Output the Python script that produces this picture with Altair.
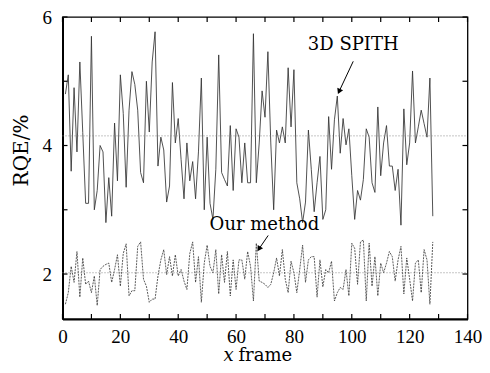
import altair as alt
import pandas as pd

frames = list(range(1, 129))
spith = [4.8, 5.1, 3.6, 4.9, 3.9, 5.3, 4.2, 3.1, 3.1, 5.7,
         3.0, 3.3, 4.0, 3.9, 2.8, 3.5, 2.9, 4.35, 3.45, 5.1,
         4.5, 3.35, 4.55, 5.15, 4.95, 4.55, 3.58, 3.42, 5.0, 4.21,
         5.3, 5.77, 3.68, 4.13, 3.93, 3.12, 3.37, 4.98, 4.04, 4.42,
         3.78, 3.17, 4.04, 3.45, 3.75, 3.17, 3.9, 5.05, 3.0, 4.13,
         3.1, 2.85, 3.63, 5.41, 3.58, 3.47, 3.37, 4.31, 3.3, 4.26,
         4.13, 3.42, 4.04, 3.42, 3.42, 5.74, 3.42, 4.04, 4.85, 4.44,
         5.46, 4.04, 3.0, 4.24, 4.04, 4.29, 4.04, 5.21, 4.29, 5.18,
         3.42, 3.17, 2.8, 3.12, 4.24, 3.63, 2.97, 3.42, 3.83, 2.85,
         3.0, 4.45, 3.63, 4.4, 4.77, 3.88, 4.42, 4.01, 4.26, 3.53,
         2.85, 3.3, 3.15, 3.47, 4.26, 4.13, 3.42, 3.27, 4.6, 3.53,
         4.04, 4.31, 3.68, 3.68, 3.3, 3.63, 2.76, 4.57, 3.7, 4.04,
         5.16, 4.04, 4.29, 4.55, 4.34, 4.13, 5.05, 2.9]
ours = [1.53, 1.71, 2.12, 1.87, 2.35, 1.64, 2.25, 1.84, 1.89, 1.71,
        1.97, 1.51, 2.07, 2.12, 2.15, 2.17, 1.87, 2.07, 2.3, 1.81,
        2.32, 2.47, 1.66, 1.74, 1.74, 2.43, 2.5, 1.92, 1.81, 1.56,
        1.61, 1.61, 1.97, 2.22, 2.38, 1.99, 2.27, 1.97, 2.3, 1.97,
        2.07, 1.89, 1.76, 2.32, 2.5, 1.87, 2.27, 1.56, 2.17, 2.45,
        2.12, 2.02, 2.38, 1.69, 2.3, 1.87, 2.35, 1.66, 2.22, 1.76,
        2.22, 2.22, 1.92, 2.35, 2.12, 1.58, 2.48, 1.89, 1.87, 1.84,
        1.79, 1.84, 2.02, 2.25, 1.97, 2.38, 1.92, 1.71, 2.2, 2.02,
        1.71, 2.07, 2.45, 1.87, 2.22, 2.27, 2.27, 1.64, 2.22, 1.8,
        2.07, 2.02, 2.2, 1.58, 1.71, 1.79, 1.76, 2.07, 1.66, 2.48,
        2.4, 1.84, 2.5, 2.53, 1.58, 2.48, 1.81, 2.27, 1.66, 2.17,
        2.02, 2.17, 2.35, 2.27, 1.89, 2.22, 2.43, 1.69, 2.25, 1.92,
        1.58, 2.17, 2.22, 1.71, 2.38, 2.22, 1.53, 2.5]
ref_levels = [4.15, 2.02]
x_labels = [0, 20, 40, 60, 80, 100, 120, 140]
x_minor = [10, 30, 50, 70, 90, 110, 130]
y_labels = [2, 4, 6]
y_minor = [3, 5]

W, H = 405, 302
XDOM = [0, 140]
YDOM = [1.3, 6]
FONT = "Liberation Serif"
AFONT = "DejaVu Serif"

xs = alt.Scale(domain=XDOM, nice=False, zero=False)
ys = alt.Scale(domain=YDOM, nice=False, zero=False)

df = pd.DataFrame({"frame": frames * 2,
                   "rqe": spith + ours,
                   "method": ["3D SPITH"] * len(frames) + ["Our method"] * len(frames)})

spith_layer = alt.Chart(df[df.method == "3D SPITH"]).mark_line(
    color="#333333", strokeWidth=0.85).encode(
    x=alt.X("frame:Q", scale=xs,
            axis=alt.Axis(values=x_labels, format="d", ticks=False, grid=False, domain=True,
                          domainWidth=2, domainColor="black", labelFont=FONT, labelFontSize=19,
                          labelColor="black", labelPadding=8, title=None, labelFlush=False)),
    y=alt.Y("rqe:Q", scale=ys,
            axis=alt.Axis(values=y_labels, format="d", ticks=False, grid=False, domain=True,
                          domainWidth=2, domainColor="black", labelFont=FONT, labelFontSize=19,
                          labelColor="black", labelPadding=11, labelFlush=False, title="RQE/%",
                          titleFont=AFONT, titleFontSize=20, titleFontWeight="normal",
                          titleColor="black", titleAngle=270, titleX=-41, titleY=133,
                          titleAlign="center", titleBaseline="middle")))

refs = pd.DataFrame({"y": ref_levels, "x0": [XDOM[0]] * 2, "x1": [XDOM[1]] * 2})
ref_layer = alt.Chart(refs).mark_rule(color="#808080", strokeWidth=0.9, strokeDash=[1, 2]).encode(
    x=alt.X("x0:Q", scale=xs), x2="x1:Q", y=alt.Y("y:Q", scale=ys))

ours_layer = alt.Chart(df[df.method == "Our method"]).mark_line(
    color="#333333", strokeWidth=0.8, strokeDash=[2, 1]).encode(
    x=alt.X("frame:Q", scale=xs), y=alt.Y("rqe:Q", scale=ys))

# inward ticks
xt = pd.DataFrame({"t": x_labels + x_minor})
yt = pd.DataFrame({"t": y_labels + y_minor})
tick_b = alt.Chart(xt).mark_rule(color="black", strokeWidth=1.2).encode(
    x=alt.X("t:Q", scale=xs), y=alt.value(H), y2=alt.value(H - 5))
tick_t = alt.Chart(xt).mark_rule(color="black", strokeWidth=1.2).encode(
    x=alt.X("t:Q", scale=xs), y=alt.value(0), y2=alt.value(5))
tick_l = alt.Chart(yt).mark_rule(color="black", strokeWidth=1.2).encode(
    y=alt.Y("t:Q", scale=ys), x=alt.value(0), x2=alt.value(5))
tick_r = alt.Chart(yt).mark_rule(color="black", strokeWidth=1.2).encode(
    y=alt.Y("t:Q", scale=ys), x=alt.value(W), x2=alt.value(W - 5))

# annotations
labels = pd.DataFrame({"x": [100.5, 69.8], "y": [5.56, 2.77], "text": ["3D SPITH", "Our method"]})
label_layer = alt.Chart(labels).mark_text(font=AFONT, fontSize=18, color="black",
                                          align="center", baseline="middle").encode(
    x=alt.X("x:Q", scale=xs), y=alt.Y("y:Q", scale=ys), text="text:N")

arrows = pd.DataFrame({"x": [100.5, 71.1], "y": [5.31, 2.60], "x2": [95.6, 67.9], "y2": [4.84, 2.39],
                       "ang": [204, 212]})
shaft = alt.Chart(arrows).mark_rule(color="black", strokeWidth=1).encode(
    x=alt.X("x:Q", scale=xs), y=alt.Y("y:Q", scale=ys), x2="x2:Q", y2="y2:Q")
heads = alt.Chart(arrows).mark_point(shape="triangle-up", filled=True, color="black", size=40,
                                     opacity=1).encode(
    x=alt.X("x2:Q", scale=xs), y=alt.Y("y2:Q", scale=ys), angle=alt.Angle("ang:Q", scale=None))

xt_title = pd.DataFrame({"x": [57.4, 60.8], "text": ["x", "frame"]})
xtitle_x = alt.Chart(xt_title.iloc[[0]]).mark_text(font=AFONT, fontSize=18, fontStyle="italic",
                                                   color="black", align="center", baseline="middle").encode(
    x=alt.X("x:Q", scale=xs), y=alt.value(H + 37), text="text:N")
xtitle_f = alt.Chart(xt_title.iloc[[1]]).mark_text(font=AFONT, fontSize=18, color="black",
                                                   align="left", baseline="middle").encode(
    x=alt.X("x:Q", scale=xs), y=alt.value(H + 37), text="text:N")

chart = alt.layer(spith_layer, ref_layer, ours_layer, tick_b, tick_t, tick_l, tick_r,
                  label_layer, shaft, heads, xtitle_x, xtitle_f).properties(
    width=W, height=H, autosize=alt.AutoSizeParams(type="none"),
    padding={"left": 54.5, "top": 9, "right": 14.5, "bottom": 46},
    background="white"
).configure_view(stroke="black", strokeWidth=1.3)

chart.save("out.html", embed_options={"renderer": "svg", "actions": False})
